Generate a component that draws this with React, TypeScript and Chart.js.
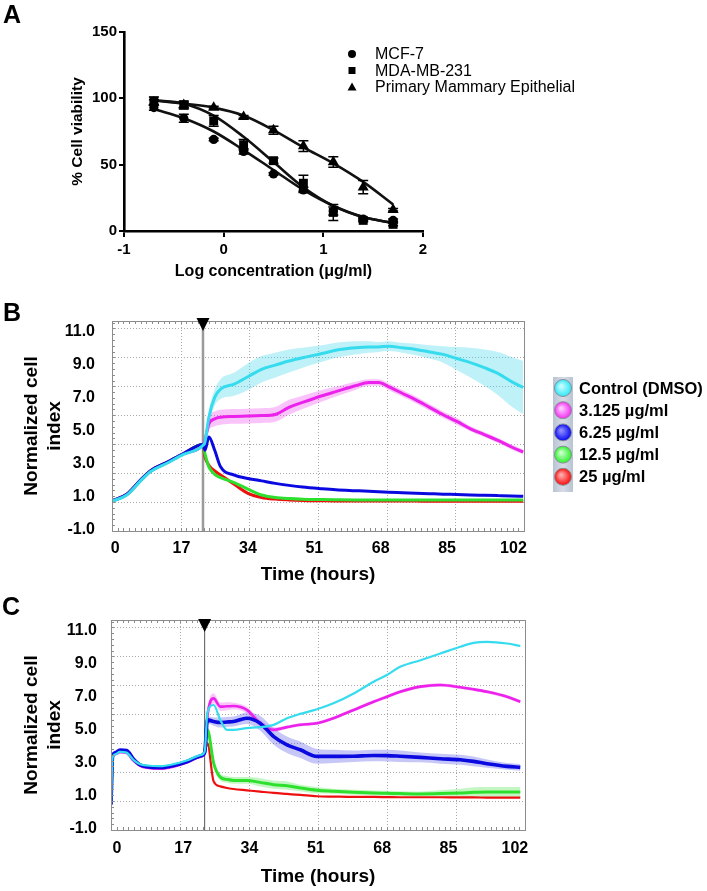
import React, { useEffect, useRef } from 'react';
import { Chart, registerables } from 'chart.js';

Chart.register(...registerables);

const FONT = "'Liberation Sans', Arial, Helvetica, sans-serif";

/* ---------------- Panel A : dose response ---------------- */
const logConc = [-0.7, -0.4, -0.1, 0.2, 0.5, 0.8, 1.1, 1.4, 1.7];
const mcf7Viability = [93, 85, 69, 60, 43, 31, 15, 9, 8];
const mcf7Sd = [2, 3, 1, 2, 1, 2, 3, 1, 1];
const mcf7Fit = [92, 85, 75, 61, 46, 31, 19, 10.5, 6];
const mdaViability = [98, 95, 83, 65, 53, 36, 14, 8, 5];
const mdaSd = [3, 2, 4, 4, 2, 6, 6, 1, 1];
const mdaFit = [98.5, 96, 87, 71, 52, 33, 19, 10.5, 6];
const pmeViability = [97, 95, 93, 86, 76, 64, 52, 33, 16];
const pmeSd = [2, 3, 1, 1, 3, 4, 4, 5, 1];
const pmeFit = [98.5, 96, 93, 87, 76, 63, 51, 37, 20];
const viabilityTicks = [0, 50, 100, 150];
const logTicks = [-1, 0, 1, 2];

/* ---------------- Panel B : RTCA ---------------- */
const timeB = [-0.8, 3, 6.5, 9, 13.5, 17.5, 22.5, 23, 24, 25.5, 27, 30.5, 34, 37.5, 41, 44.5, 48, 53, 56.5, 61.5, 65, 67.5, 70, 73.5, 77, 80.5, 84, 87.5, 91, 94.5, 98, 101.5, 104.5];
const controlB = [0.72, 1.1, 1.95, 2.5, 3.05, 3.55, 4.1, 4.3, 5.8, 7.0, 7.5, 7.8, 8.25, 8.7, 8.95, 9.2, 9.4, 9.65, 9.85, 10.0, 10.05, 10.05, 10.1, 10.0, 9.9, 9.75, 9.6, 9.35, 9.1, 8.8, 8.45, 7.95, 7.6];
const controlSdB = [0.05, 0.05, 0.05, 0.05, 0.05, 0.05, 0.1, 0.2, 0.4, 0.5, 0.6, 0.7, 0.8, 0.8, 0.75, 0.7, 0.6, 0.5, 0.45, 0.4, 0.35, 0.3, 0.3, 0.3, 0.35, 0.4, 0.5, 0.7, 0.9, 1.1, 1.3, 1.5, 1.6];
const dose3B = [0.72, 1.12, 1.97, 2.52, 3.08, 3.59, 4.15, 4.4, 5.4, 5.7, 5.8, 5.85, 5.87, 5.9, 5.97, 6.4, 6.7, 7.1, 7.35, 7.7, 7.9, 7.9, 7.65, 7.25, 6.85, 6.4, 5.95, 5.55, 5.1, 4.75, 4.4, 4.0, 3.7];
const dose3SdB = [0.05, 0.05, 0.05, 0.05, 0.05, 0.05, 0.1, 0.2, 0.4, 0.45, 0.45, 0.45, 0.45, 0.45, 0.45, 0.45, 0.4, 0.35, 0.3, 0.25, 0.2, 0.2, 0.2, 0.2, 0.2, 0.2, 0.2, 0.2, 0.15, 0.15, 0.15, 0.15, 0.15];
const dose6B = [0.75, 1.15, 2.0, 2.55, 3.1, 3.6, 4.15, 3.8, 4.6, 3.8, 2.8, 2.3, 2.1, 1.95, 1.8, 1.68, 1.58, 1.48, 1.42, 1.36, 1.32, 1.3, 1.27, 1.24, 1.21, 1.18, 1.15, 1.13, 1.1, 1.08, 1.06, 1.04, 1.02];
const dose12B = [0.72, 1.12, 1.97, 2.52, 3.08, 3.59, 4.15, 3.6, 2.8, 2.35, 2.15, 1.85, 1.45, 1.1, 0.95, 0.88, 0.84, 0.82, 0.81, 0.8, 0.8, 0.8, 0.8, 0.8, 0.8, 0.8, 0.8, 0.8, 0.8, 0.8, 0.8, 0.8, 0.8];
const dose25B = [0.74, 1.14, 2.0, 2.55, 3.1, 3.6, 4.15, 3.4, 2.9, 2.55, 2.3, 1.75, 1.2, 0.95, 0.85, 0.8, 0.77, 0.75, 0.74, 0.74, 0.74, 0.73, 0.73, 0.73, 0.73, 0.72, 0.72, 0.72, 0.72, 0.72, 0.72, 0.72, 0.72];

/* ---------------- Panel C : RTCA ---------------- */
const timeC = [-1.5, -1.1, -0.4, 0.8, 2.5, 4.3, 6.0, 7.7, 11.1, 14.5, 17.9, 21.4, 22.5, 23.2, 24.8, 26.5, 28.2, 29.9, 33.3, 36.7, 40.2, 43.6, 47.0, 51.3, 55.5, 60.7, 65.8, 69.2, 72.6, 77.8, 82.9, 88.0, 91.4, 94.9, 100.0, 103.4];
const controlC = [0.46, 3.3, 3.5, 3.65, 3.6, 3.15, 2.9, 2.82, 2.78, 2.9, 3.12, 3.45, 3.65, 6.0, 6.48, 5.58, 4.98, 4.98, 5.08, 5.14, 5.28, 5.68, 5.94, 6.22, 6.58, 7.18, 7.89, 8.29, 8.79, 9.19, 9.59, 10.0, 10.24, 10.3, 10.2, 10.05];
const dose3C = [0.46, 3.3, 3.5, 3.62, 3.58, 3.1, 2.8, 2.68, 2.62, 2.75, 3.0, 3.35, 3.55, 5.78, 6.88, 6.38, 6.4, 6.42, 6.18, 5.38, 4.98, 5.14, 5.28, 5.38, 5.68, 6.18, 6.68, 6.98, 7.28, 7.59, 7.69, 7.55, 7.43, 7.28, 6.98, 6.68];
const dose3SdC = [0.05, 0.05, 0.05, 0.05, 0.05, 0.05, 0.05, 0.05, 0.05, 0.05, 0.05, 0.05, 0.05, 0.3, 0.3, 0.25, 0.25, 0.2, 0.2, 0.2, 0.15, 0.1, 0.1, 0.1, 0.1, 0.1, 0.1, 0.1, 0.1, 0.1, 0.1, 0.1, 0.1, 0.1, 0.1, 0.1];
const dose6C = [0.46, 3.37, 3.6, 3.75, 3.72, 3.2, 2.85, 2.75, 2.7, 2.82, 3.05, 3.4, 3.6, 5.58, 5.48, 5.42, 5.45, 5.48, 5.68, 5.38, 4.57, 4.07, 3.77, 3.37, 3.37, 3.38, 3.43, 3.42, 3.38, 3.31, 3.23, 3.17, 3.07, 2.93, 2.77, 2.71];
const dose6SdC = [0.05, 0.05, 0.05, 0.05, 0.05, 0.05, 0.05, 0.05, 0.05, 0.05, 0.05, 0.05, 0.05, 0.2, 0.25, 0.3, 0.3, 0.3, 0.35, 0.45, 0.5, 0.5, 0.5, 0.45, 0.4, 0.35, 0.35, 0.35, 0.35, 0.3, 0.3, 0.3, 0.3, 0.25, 0.2, 0.2];
const dose12C = [0.46, 3.37, 3.57, 3.71, 3.67, 3.17, 2.87, 2.77, 2.71, 2.83, 3.07, 3.41, 3.61, 4.98, 2.97, 2.12, 1.98, 1.92, 1.92, 1.8, 1.66, 1.6, 1.46, 1.32, 1.26, 1.2, 1.16, 1.14, 1.12, 1.1, 1.12, 1.16, 1.2, 1.22, 1.22, 1.22];
const dose12SdC = [0.05, 0.05, 0.05, 0.05, 0.05, 0.05, 0.05, 0.05, 0.05, 0.05, 0.05, 0.05, 0.05, 0.2, 0.2, 0.2, 0.2, 0.2, 0.2, 0.25, 0.25, 0.25, 0.2, 0.2, 0.15, 0.15, 0.15, 0.15, 0.15, 0.15, 0.2, 0.25, 0.3, 0.3, 0.3, 0.3];
const dose25C = [0.46, 3.37, 3.57, 3.71, 3.67, 3.17, 2.87, 2.77, 2.71, 2.83, 3.07, 3.41, 3.61, 4.17, 1.86, 1.56, 1.46, 1.4, 1.32, 1.24, 1.16, 1.1, 1.04, 0.96, 0.94, 0.92, 0.92, 0.91, 0.9, 0.9, 0.9, 0.89, 0.89, 0.88, 0.88, 0.88];

const timeTicks = [0, 17, 34, 51, 68, 85, 102];
const ciTicks = [-1, 1, 3, 5, 7, 9, 11];
const ciMin = -1.08;
const ciMax = 11.62;
const treatmentTime = 22.5;
const doseLabels = ['Control (DMSO)', '3.125 µg/ml', '6.25 µg/ml', '12.5 µg/ml', '25 µg/ml'];

/* ---------------- plugins ---------------- */
const errorBarsPlugin = {
  id: 'errorBars',
  afterDatasetsDraw(chart: any, _a: any, o: any) {
    const { ctx } = chart;
    const y = chart.scales.y;
    ctx.save();
    ctx.strokeStyle = o.color;
    ctx.lineWidth = o.width;
    chart.data.datasets.forEach((ds: any, i: number) => {
      if (!ds.sd) return;
      const meta = chart.getDatasetMeta(i);
      meta.data.forEach((el: any, j: number) => {
        const v = ds.data[j].y;
        const e = ds.sd[j];
        const t = y.getPixelForValue(v + e);
        const b = y.getPixelForValue(v - e);
        ctx.beginPath();
        ctx.moveTo(el.x, t);
        ctx.lineTo(el.x, b);
        ctx.moveTo(el.x - o.cap, t);
        ctx.lineTo(el.x + o.cap, t);
        ctx.moveTo(el.x - o.cap, b);
        ctx.lineTo(el.x + o.cap, b);
        ctx.stroke();
      });
    });
    ctx.restore();
  },
};

const shapeLegendPlugin = {
  id: 'shapeLegend',
  afterDraw(chart: any, _a: any, o: any) {
    const { ctx } = chart;
    ctx.save();
    ctx.fillStyle = '#000';
    ctx.font = o.font;
    ctx.textBaseline = 'middle';
    let row = 0;
    chart.data.datasets.forEach((ds: any) => {
      if (!ds.legendShape) return;
      const cy = o.y + row * o.gap;
      const cx = o.x;
      ctx.beginPath();
      if (ds.legendShape === 'circle') {
        ctx.arc(cx, cy, 4, 0, Math.PI * 2);
      } else if (ds.legendShape === 'rect') {
        ctx.rect(cx - 3.5, cy - 3.5, 7, 7);
      } else {
        ctx.moveTo(cx, cy - 4.5);
        ctx.lineTo(cx + 4.5, cy + 3.5);
        ctx.lineTo(cx - 4.5, cy + 3.5);
        ctx.closePath();
      }
      ctx.fill();
      ctx.fillText(ds.label, o.textX, cy + 1);
      row++;
    });
    ctx.restore();
  },
};

const rtcaFramePlugin = {
  id: 'rtcaFrame',
  beforeDatasetsDraw(chart: any, _a: any, o: any) {
    const { ctx, chartArea: a } = chart;
    const x = chart.scales.x;
    const y = chart.scales.y;
    ctx.save();
    ctx.lineWidth = 1;
    ctx.strokeStyle = o.gridColor;
    ctx.setLineDash([1, 2]);
    for (let k = 1; k < o.xGridCount; k++) {
      const px = Math.round(x.getPixelForValue(x.min + (k * (x.max - x.min)) / o.xGridCount)) + 0.5;
      ctx.beginPath();
      ctx.moveTo(px, a.top);
      ctx.lineTo(px, a.bottom);
      ctx.stroke();
    }
    for (let v = y.min + o.yGridStep; v < y.max; v += o.yGridStep) {
      const py = Math.round(y.getPixelForValue(v)) + 0.5;
      ctx.beginPath();
      ctx.moveTo(a.left, py);
      ctx.lineTo(a.right, py);
      ctx.stroke();
    }
    ctx.setLineDash([]);
    const tx = x.getPixelForValue(o.treatment);
    ctx.strokeStyle = o.markColor;
    ctx.lineWidth = o.markWidth;
    ctx.beginPath();
    ctx.moveTo(tx, a.top);
    ctx.lineTo(tx, a.bottom);
    ctx.stroke();
    ctx.restore();
  },
  afterDatasetsDraw(chart: any, _a: any, o: any) {
    const { ctx, chartArea: a } = chart;
    const x = chart.scales.x;
    const y = chart.scales.y;
    ctx.save();
    ctx.strokeStyle = o.frameColor;
    ctx.lineWidth = 1;
    ctx.strokeRect(Math.round(a.left) + 0.5, Math.round(a.top) + 0.5, Math.round(a.right - a.left), Math.round(a.bottom - a.top));
    ctx.beginPath();
    for (let k = 1; k < o.minorX; k++) {
      const px = Math.round(a.left + (k * (a.right - a.left)) / o.minorX) + 0.5;
      ctx.moveTo(px, a.top);
      ctx.lineTo(px, a.top + o.minorLen);
      ctx.moveTo(px, a.bottom);
      ctx.lineTo(px, a.bottom - o.minorLen);
    }
    for (let v = y.min + o.minorYStep; v < y.max; v += o.minorYStep) {
      const py = Math.round(y.getPixelForValue(v)) + 0.5;
      ctx.moveTo(a.left, py);
      ctx.lineTo(a.left + o.minorLen, py);
    }
    ctx.stroke();
    const tx = x.getPixelForValue(o.treatment);
    ctx.fillStyle = '#000';
    ctx.beginPath();
    ctx.moveTo(tx - o.triW / 2, a.top + o.triTop);
    ctx.lineTo(tx + o.triW / 2, a.top + o.triTop);
    ctx.lineTo(tx, a.top + o.triTop + o.triH);
    ctx.closePath();
    ctx.fill();
    ctx.restore();
  },
};

const swatchLegendPlugin = {
  id: 'swatchLegend',
  afterDraw(chart: any, _a: any, o: any) {
    if (!o.items) return;
    const { ctx } = chart;
    ctx.save();
    const g = ctx.createLinearGradient(o.boxX, 0, o.boxX + o.boxW, 0);
    g.addColorStop(0, '#b9c3d2');
    g.addColorStop(0.5, '#d6dce6');
    g.addColorStop(1, '#b9c3d2');
    ctx.fillStyle = g;
    ctx.fillRect(o.boxX, o.boxY, o.boxW, o.boxH);
    ctx.font = o.font;
    ctx.textBaseline = 'middle';
    o.items.forEach((it: any, i: number) => {
      const cy = o.rowY + i * o.rowGap;
      const rg = ctx.createRadialGradient(o.cx - 2, cy - 2, 1, o.cx, cy, o.r);
      rg.addColorStop(0, it.light);
      rg.addColorStop(1, it.color);
      ctx.beginPath();
      ctx.arc(o.cx, cy, o.r, 0, Math.PI * 2);
      ctx.fillStyle = rg;
      ctx.fill();
      ctx.strokeStyle = '#8a8f98';
      ctx.lineWidth = 1;
      ctx.stroke();
      ctx.fillStyle = '#000';
      ctx.fillText(it.label, o.textX, cy + 1);
    });
    ctx.restore();
  },
};

/* ---------------- chart factories ---------------- */
function makeChartA(canvas: HTMLCanvasElement) {
  const series = [
    { label: 'MCF-7', values: mcf7Viability, sd: mcf7Sd, fit: mcf7Fit, shape: 'circle', radius: 4.6 },
    { label: 'MDA-MB-231', values: mdaViability, sd: mdaSd, fit: mdaFit, shape: 'rect', radius: 6.3 },
    { label: 'Primary Mammary Epithelial', values: pmeViability, sd: pmeSd, fit: pmeFit, shape: 'triangle', radius: 6.4 },
  ];
  const toXY = (vals: number[]) => logConc.map((x, i) => ({ x, y: vals[i] }));
  const datasets: any[] = [];
  series.forEach((s) => {
    datasets.push({
      label: s.label, data: toXY(s.values), sd: s.sd, legendShape: s.shape, showLine: false,
      pointStyle: s.shape, pointRadius: s.radius, pointBackgroundColor: '#000', pointBorderColor: '#000',
      pointBorderWidth: 0, order: 0,
    });
    datasets.push({
      label: s.label + ' fit', data: toXY(s.fit), borderColor: '#111', borderWidth: 2.6, pointRadius: 0,
      cubicInterpolationMode: 'monotone', order: 1,
    });
  });
  const tickFont = { family: FONT, size: 15, weight: 'bold' };
  return new Chart(canvas, {
    type: 'line',
    data: { datasets },
    options: {
      animation: false, responsive: false, events: [],
      layout: { padding: { top: 32, right: 284, left: 0, bottom: 0 } },
      plugins: {
        legend: { display: false }, tooltip: { enabled: false },
        errorBars: { color: '#000', width: 1.5, cap: 5 },
        shapeLegend: { x: 352, y: 54, gap: 16.5, textX: 375, font: `16px ${FONT}` },
      },
      scales: {
        x: {
          type: 'linear', min: -1, max: 2,
          afterBuildTicks: (s: any) => { s.ticks = logTicks.map((v) => ({ value: v })); },
          afterFit: (s: any) => { s.height = 59; },
          border: { color: '#000', width: 2.6 },
          grid: { drawOnChartArea: false, tickLength: 6, color: '#000', lineWidth: 2 },
          ticks: { color: '#000', font: tickFont, padding: 4, maxRotation: 0, autoSkip: false },
          title: { display: true, text: 'Log concentration (μg/ml)', color: '#000', font: { family: FONT, size: 16, weight: 'bold' }, padding: { top: 0, bottom: 8.4 } },
        },
        y: {
          type: 'linear', min: 0, max: 150,
          afterBuildTicks: (s: any) => { s.ticks = viabilityTicks.map((v) => ({ value: v })); },
          afterFit: (s: any) => { s.width = 124; },
          border: { color: '#000', width: 2.6 },
          grid: { drawOnChartArea: false, tickLength: 5, color: '#000', lineWidth: 2 },
          ticks: { color: '#000', font: tickFont, padding: 2 },
          title: { display: true, text: '% Cell viability', color: '#000', font: { family: FONT, size: 15.5, weight: 'bold' }, padding: { top: 68.7, bottom: 0 } },
        },
      },
    } as any,
    plugins: [errorBarsPlugin, shapeLegendPlugin],
  });
}

type Series = { label: string; values: number[]; sd?: number[]; line: string; band?: string; width: number; drawOrder: number };

function makeRtcaChart(canvas: HTMLCanvasElement, times: number[], series: Series[], L: any) {
  const datasets: any[] = [];
  series.forEach((s) => {
    datasets.push({
      label: s.label, data: times.map((t, i) => ({ x: t, y: s.values[i] })),
      borderColor: s.line, borderWidth: s.width, pointRadius: 0, fill: false,
      cubicInterpolationMode: 'monotone', order: s.drawOrder,
    });
  });
  series.forEach((s) => {
    if (!s.sd) return;
    datasets.push({
      label: s.label + ' +SD', data: times.map((t, i) => ({ x: t, y: s.values[i] + (s.sd as number[])[i] })),
      borderWidth: 0, borderColor: 'rgba(0,0,0,0)', pointRadius: 0, fill: false,
      cubicInterpolationMode: 'monotone', order: 20,
    });
    datasets.push({
      label: s.label + ' -SD', data: times.map((t, i) => ({ x: t, y: s.values[i] - (s.sd as number[])[i] })),
      borderWidth: 0, borderColor: 'rgba(0,0,0,0)', backgroundColor: s.band, pointRadius: 0, fill: '-1',
      cubicInterpolationMode: 'monotone', order: 20,
    });
  });
  const tickFont = { family: FONT, size: 16, weight: 'bold' };
  return new Chart(canvas, {
    type: 'line',
    data: { datasets },
    options: {
      animation: false, responsive: false, events: [],
      layout: { padding: { top: L.top, right: L.right, left: 0, bottom: 0 } },
      plugins: {
        legend: { display: false }, tooltip: { enabled: false },
        rtcaFrame: {
          gridColor: '#a8a8a8', xGridCount: 6, yGridStep: 1.75, treatment: treatmentTime,
          markColor: L.markColor, markWidth: L.markWidth, frameColor: '#8c8c8c',
          minorX: 72, minorYStep: 0.35, minorLen: 3, triW: 13, triH: 13, triTop: L.triTop,
        },
        swatchLegend: L.legend || {},
      },
      scales: {
        x: {
          type: 'linear', min: L.xMin, max: L.xMax,
          afterBuildTicks: (s: any) => { s.ticks = timeTicks.map((v) => ({ value: v })); },
          afterFit: (s: any) => { s.height = L.xHeight; },
          grid: { display: false, drawTicks: false }, border: { display: false },
          ticks: { color: '#000', font: tickFont, padding: L.xTickPad, maxRotation: 0, autoSkip: false, callback: (v: any) => String(v) },
          title: { display: true, text: 'Time (hours)', color: '#000', font: { family: FONT, size: 19, weight: 'bold' }, padding: { top: 0, bottom: L.xTitlePad } },
        },
        y: {
          type: 'linear', min: ciMin, max: ciMax,
          afterBuildTicks: (s: any) => { s.ticks = ciTicks.map((v) => ({ value: v })); },
          afterFit: (s: any) => { s.width = L.yWidth; },
          grid: { display: false, drawTicks: false }, border: { display: false },
          ticks: { color: '#000', font: tickFont, padding: L.yTickPad, callback: (v: any) => Number(v).toFixed(1) },
          title: { display: true, text: ['Normalized cell', 'index'], color: '#000', font: { family: FONT, size: 19, weight: 'bold' }, padding: { top: 20.6, bottom: 0 } },
        },
      },
    } as any,
    plugins: [rtcaFramePlugin, swatchLegendPlugin],
  });
}

const swatchColors = [
  { color: '#2ee8f6', light: '#c8fbff' },
  { color: '#f22ef2', light: '#ffc8ff' },
  { color: '#0606f0', light: '#8c8cff' },
  { color: '#2cf02c', light: '#c8ffc8' },
  { color: '#f80a0a', light: '#ffaaaa' },
];

function makeChartB(canvas: HTMLCanvasElement) {
  const series: Series[] = [
    { label: doseLabels[0], values: controlB, sd: controlSdB, line: '#36dcee', band: 'rgba(70,215,235,0.35)', width: 3, drawOrder: 0 },
    { label: doseLabels[1], values: dose3B, sd: dose3SdB, line: '#ec22ec', band: 'rgba(236,60,236,0.3)', width: 3, drawOrder: 3 },
    { label: doseLabels[2], values: dose6B, line: '#0a0ae0', width: 3, drawOrder: 1 },
    { label: doseLabels[3], values: dose12B, line: '#2ee02e', width: 3, drawOrder: 2 },
    { label: doseLabels[4], values: dose25B, line: '#ee1010', width: 3, drawOrder: 4 },
  ];
  return makeRtcaChart(canvas, timeB, series, {
    top: 31, right: 183, yWidth: 112, xHeight: 64, xMin: -0.8, xMax: 104.7,
    xTickPad: 8, yTickPad: 17, xTitlePad: 8.6, markColor: '#9a9a9a', markWidth: 2.5, triTop: -3,
    legend: {
      items: series.map((s, i) => ({ label: s.label, color: swatchColors[i].color, light: swatchColors[i].light })),
      boxX: 553, boxY: 87, boxW: 20, boxH: 115, cx: 563, r: 8.5, rowY: 98, rowGap: 22.2, textX: 579,
      font: `bold 16.5px ${FONT}`,
    },
  });
}

function makeChartC(canvas: HTMLCanvasElement) {
  const series: Series[] = [
    { label: doseLabels[0], values: controlC, line: '#36dcee', width: 2.2, drawOrder: 0 },
    { label: doseLabels[1], values: dose3C, sd: dose3SdC, line: '#ec22ec', band: 'rgba(236,60,236,0.3)', width: 2.6, drawOrder: 2 },
    { label: doseLabels[2], values: dose6C, sd: dose6SdC, line: '#0a0ae0', band: 'rgba(70,70,230,0.3)', width: 3.6, drawOrder: 1 },
    { label: doseLabels[3], values: dose12C, sd: dose12SdC, line: '#2ee02e', band: 'rgba(60,225,60,0.3)', width: 3, drawOrder: 3 },
    { label: doseLabels[4], values: dose25C, line: '#ee1010', width: 2.2, drawOrder: 4 },
  ];
  return makeRtcaChart(canvas, timeC, series, {
    top: 30, right: 182, yWidth: 111, xHeight: 61, xMin: -1.5, xMax: 104.6,
    xTickPad: 9, yTickPad: 14, xTitlePad: 2.6, markColor: '#555', markWidth: 1, triTop: -1,
  });
}

function ChartCanvas({ make, top, width, height }: any) {
  const ref = useRef<HTMLCanvasElement>(null);
  useEffect(() => {
    const chart = make(ref.current as HTMLCanvasElement);
    return () => chart.destroy();
  }, [make]);
  return (
    <canvas
      ref={ref}
      width={width}
      height={height}
      style={{ position: 'absolute', left: 0, top, width, height, display: 'block' }}
    />
  );
}

function PanelLetter({ text, left, top }: any) {
  return (
    <div style={{ position: 'absolute', left, top, fontFamily: FONT, fontWeight: 'bold', fontSize: 25, lineHeight: '25px', color: '#000' }}>
      {text}
    </div>
  );
}

export default function App() {
  return (
    <div style={{ position: 'absolute', left: 0, top: 0, width: 707, height: 891, background: '#fff', overflow: 'hidden' }}>
      <ChartCanvas make={makeChartA} top={0} width={707} height={290} />
      <ChartCanvas make={makeChartB} top={290} width={707} height={305} />
      <ChartCanvas make={makeChartC} top={590} width={707} height={301} />
      <PanelLetter text="A" left={3} top={2} />
      <PanelLetter text="B" left={3} top={300} />
      <PanelLetter text="C" left={2} top={594} />
    </div>
  );
}
